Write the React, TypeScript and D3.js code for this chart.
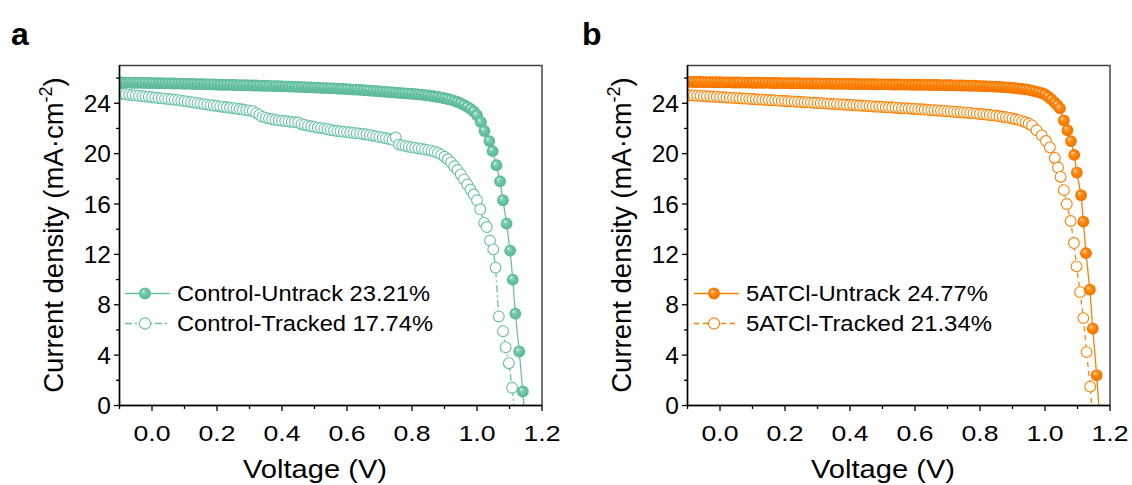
import React from "react";
import * as d3 from "d3";

// ---------- DATA ----------
const sweepV = [
  -0.10, -0.09, -0.08, -0.07, -0.06, -0.05, -0.04, -0.03, -0.02, -0.01,
  0.00, 0.01, 0.02, 0.03, 0.04, 0.05, 0.06, 0.07, 0.08, 0.09,
  0.10, 0.11, 0.12, 0.13, 0.14, 0.15, 0.16, 0.17, 0.18, 0.19,
  0.20, 0.21, 0.22, 0.23, 0.24, 0.25, 0.26, 0.27, 0.28, 0.29,
  0.30, 0.31, 0.32, 0.33, 0.34, 0.35, 0.36, 0.37, 0.38, 0.39,
  0.40, 0.41, 0.42, 0.43, 0.44, 0.45, 0.46, 0.47, 0.48, 0.49,
  0.50, 0.51, 0.52, 0.53, 0.54, 0.55, 0.56, 0.57, 0.58, 0.59,
  0.60, 0.61, 0.62, 0.63, 0.64, 0.65, 0.66, 0.67, 0.68, 0.69,
  0.70, 0.71, 0.72, 0.73, 0.74, 0.75, 0.76, 0.77, 0.78, 0.79,
  0.80, 0.81, 0.82, 0.83, 0.84, 0.85, 0.86, 0.87, 0.88, 0.89,
  0.90, 0.91, 0.92, 0.93, 0.94, 0.95, 0.96, 0.97, 0.98, 0.99,
];

// Control - Untrack (filled)
const ctrlUntrackJ = [
  25.65, 25.65, 25.64, 25.64, 25.63, 25.63, 25.62, 25.62, 25.61, 25.61,
  25.60, 25.60, 25.59, 25.59, 25.58, 25.58, 25.57, 25.57, 25.56, 25.56,
  25.55, 25.54, 25.54, 25.53, 25.52, 25.52, 25.51, 25.50, 25.50, 25.49,
  25.48, 25.47, 25.47, 25.46, 25.46, 25.45, 25.44, 25.44, 25.43, 25.43,
  25.42, 25.41, 25.41, 25.40, 25.39, 25.39, 25.38, 25.37, 25.37, 25.36,
  25.35, 25.34, 25.33, 25.32, 25.31, 25.30, 25.29, 25.28, 25.27, 25.26,
  25.25, 25.24, 25.23, 25.21, 25.20, 25.19, 25.18, 25.16, 25.15, 25.14,
  25.12, 25.11, 25.09, 25.08, 25.06, 25.04, 25.03, 25.01, 24.99, 24.97,
  24.95, 24.93, 24.91, 24.89, 24.87, 24.85, 24.83, 24.81, 24.79, 24.77,
  24.75, 24.73, 24.70, 24.68, 24.65, 24.62, 24.58, 24.54, 24.50, 24.45,
  24.40, 24.34, 24.27, 24.19, 24.10, 23.99, 23.86, 23.72, 23.56, 23.35,
];
const ctrlUntrackTailV = [1.000, 1.012, 1.023, 1.038, 1.048, 1.060, 1.071, 1.080, 1.091, 1.102, 1.110, 1.118, 1.130, 1.141, 1.152];
const ctrlUntrackTailJ = [23.05, 22.5, 21.8, 21.0, 20.2, 19.08, 17.8, 16.3, 14.44, 12.3, 10.0, 7.29, 4.29, 1.11, -2.5];

// Control - Tracked (hollow)
const ctrlTrackJ = [
  24.78, 24.75, 24.72, 24.68, 24.65, 24.62, 24.60, 24.57, 24.54, 24.51,
  24.48, 24.45, 24.42, 24.39, 24.37, 24.34, 24.31, 24.28, 24.25, 24.21,
  24.17, 24.13, 24.09, 24.05, 24.01, 23.97, 23.93, 23.89, 23.85, 23.82,
  23.78, 23.75, 23.71, 23.68, 23.64, 23.61, 23.57, 23.54, 23.50, 23.46,
  23.42, 23.38, 23.22, 23.08, 22.92, 22.84, 22.78, 22.73, 22.68, 22.64,
  22.61, 22.58, 22.55, 22.52, 22.49, 22.47, 22.34, 22.28, 22.22, 22.17,
  22.12, 22.07, 22.03, 21.99, 21.94, 21.88, 21.84, 21.80, 21.77, 21.74,
  21.71, 21.68, 21.65, 21.62, 21.59, 21.56, 21.52, 21.47, 21.42, 21.37,
  21.32, 21.27, 21.22, 21.16, 21.10, 21.28, 20.72, 20.66, 20.60, 20.55,
  20.50, 20.46, 20.42, 20.38, 20.33, 20.28, 20.22, 20.15, 20.05, 19.92,
];
const ctrlTrackTailV = [0.90, 0.91, 0.92, 0.93, 0.94, 0.95, 0.96, 0.97, 0.98, 0.99, 1.000, 1.010, 1.022, 1.030, 1.040, 1.050, 1.057, 1.067, 1.080, 1.088, 1.098, 1.108, 1.122];
const ctrlTrackTailJ = [19.75, 19.55, 19.3, 19.0, 18.7, 18.35, 17.95, 17.55, 17.15, 16.75, 16.3, 15.58, 14.5, 14.17, 13.1, 12.4, 10.95, 7.07, 5.9, 4.63, 3.36, 1.41, -1.8];

// 5ATCl - Untrack (filled)
const atUntrackJ = [
  25.70, 25.70, 25.69, 25.69, 25.69, 25.68, 25.68, 25.68, 25.67, 25.67,
  25.67, 25.66, 25.66, 25.66, 25.65, 25.65, 25.65, 25.64, 25.64, 25.64,
  25.63, 25.63, 25.63, 25.62, 25.62, 25.62, 25.61, 25.61, 25.61, 25.60,
  25.60, 25.60, 25.59, 25.59, 25.59, 25.58, 25.58, 25.58, 25.57, 25.57,
  25.57, 25.56, 25.56, 25.56, 25.55, 25.55, 25.55, 25.54, 25.54, 25.54,
  25.53, 25.53, 25.53, 25.52, 25.52, 25.52, 25.51, 25.51, 25.51, 25.50,
  25.50, 25.50, 25.50, 25.49, 25.49, 25.49, 25.48, 25.48, 25.48, 25.47,
  25.47, 25.47, 25.46, 25.46, 25.46, 25.45, 25.45, 25.45, 25.44, 25.44,
  25.43, 25.43, 25.42, 25.42, 25.41, 25.41, 25.40, 25.39, 25.39, 25.38,
  25.37, 25.36, 25.35, 25.34, 25.33, 25.32, 25.31, 25.29, 25.27, 25.25,
  25.23, 25.20, 25.17, 25.14, 25.10, 25.06, 25.01, 24.95, 24.88, 24.80,
];
const atUntrackTailV = [1.00, 1.01, 1.02, 1.03, 1.038, 1.046, 1.058, 1.069, 1.080, 1.090, 1.098, 1.111, 1.118, 1.126, 1.138, 1.147, 1.159, 1.170];
const atUntrackTailJ = [24.70, 24.52, 24.30, 24.05, 23.85, 23.6, 22.65, 21.86, 21.0, 19.9, 18.5, 16.7, 14.6, 12.1, 9.2, 6.1, 2.4, -1.6];

// 5ATCl - Tracked (hollow)
const atTrackJ = [
  24.65, 24.63, 24.62, 24.60, 24.59, 24.57, 24.56, 24.54, 24.52, 24.51,
  24.49, 24.48, 24.46, 24.45, 24.43, 24.41, 24.40, 24.38, 24.37, 24.35,
  24.34, 24.32, 24.30, 24.29, 24.27, 24.26, 24.24, 24.23, 24.21, 24.19,
  24.18, 24.16, 24.15, 24.13, 24.12, 24.10, 24.08, 24.07, 24.05, 24.04,
  24.02, 24.01, 23.99, 23.97, 23.96, 23.94, 23.93, 23.91, 23.90, 23.88,
  23.86, 23.85, 23.83, 23.82, 23.80, 23.79, 23.77, 23.75, 23.74, 23.72,
  23.71, 23.69, 23.68, 23.66, 23.65, 23.63, 23.61, 23.60, 23.58, 23.57,
  23.55, 23.53, 23.52, 23.50, 23.48, 23.46, 23.45, 23.43, 23.41, 23.39,
  23.37, 23.35, 23.33, 23.31, 23.29, 23.27, 23.25, 23.23, 23.20, 23.18,
  23.15, 23.13, 23.10, 23.07, 23.04, 23.01, 22.97, 22.93, 22.89, 22.84,
  22.79, 22.73, 22.66, 22.58, 22.49, 22.37, 22.24,
];
const atTrackTailV = [0.974, 0.990, 1.003, 1.015, 1.030, 1.040, 1.048, 1.058, 1.067, 1.079, 1.089, 1.097, 1.108, 1.118, 1.128, 1.139, 1.150];
const atTrackTailJ = [21.86, 21.45, 21.0, 20.5, 19.66, 18.9, 18.15, 17.1, 16.0, 14.65, 12.9, 11.05, 9.0, 6.94, 4.24, 1.5, -1.9];

const legendNames = [
  ["Control-Untrack 23.21%", "Control-Tracked 17.74%"],
  ["5ATCl-Untrack 24.77%", "5ATCl-Tracked 21.34%"],
];
const panelLetters = ["a", "b"];
const xMajorTicks = [0.0, 0.2, 0.4, 0.6, 0.8, 1.0, 1.2];
const xMinorTicks = [-0.1, 0.1, 0.3, 0.5, 0.7, 0.9, 1.1];
const yMajorTicks = [0, 4, 8, 12, 16, 20, 24];
const yMinorTicks = [2, 6, 10, 14, 18, 22, 26];

// ---------- HELPERS ----------
type Pt = [number, number];
function build(dense: number[], tailV: number[], tailJ: number[]): Pt[] {
  const pts: Pt[] = dense.map((j, i) => [sweepV[i], j] as Pt);
  tailV.forEach((v, i) => pts.push([v, tailJ[i]]));
  return pts;
}

const TEAL = "#66C2A5";
const ORANGE = "#FF8000";
const FONT = "Arial, 'Liberation Sans', Helvetica, sans-serif";

const PLOT_W = 422.5;
const PLOT_TOP = 65.5;
const PLOT_BOTTOM = 405.5;

interface PanelProps {
  idx: number;
  left: number;
  color: string;
  gradId: string;
  untrack: Pt[];
  track: Pt[];
  trackDash: string;
  legendX: number;
  legendLens: number[];
}

function Panel({ idx, left, color, gradId, untrack, track, trackDash, legendX, legendLens }: PanelProps) {
  const x = d3.scaleLinear().domain([-0.1, 1.2]).range([left, left + PLOT_W]);
  const y = d3.scaleLinear().domain([0, 27]).range([PLOT_BOTTOM, PLOT_TOP]);
  const line = d3.line<Pt>().x((d) => x(d[0])).y((d) => y(d[1]));
  const clipId = `clip-${idx}`;
  const R = 5.9;
  const off = left - 119.5;
  const legY = [293.5, 323.5];

  return (
    <g>
      <defs>
        <clipPath id={clipId}>
          <rect x={left} y={PLOT_TOP} width={PLOT_W} height={PLOT_BOTTOM - PLOT_TOP} />
        </clipPath>
      </defs>
      <g clipPath={`url(#${clipId})`}>
        <path d={line(track) || ""} fill="none" stroke={color} strokeWidth={1.3} strokeDasharray={trackDash} />
        <path d={line(untrack) || ""} fill="none" stroke={color} strokeWidth={1.3} />
        {track.map((d, i) => (
          <circle key={"t" + i} cx={x(d[0])} cy={y(d[1])} r={R - 0.5} fill="#fff" stroke={color} strokeWidth={1.1} />
        ))}
        {untrack.map((d, i) => (
          <circle key={"u" + i} cx={x(d[0])} cy={y(d[1])} r={R} fill={`url(#${gradId})`} />
        ))}
      </g>
      {/* frame */}
      <rect x={left} y={PLOT_TOP} width={PLOT_W} height={PLOT_BOTTOM - PLOT_TOP} fill="none" stroke="#404040" strokeWidth={1.5} />
      <line x1={left} x2={left} y1={PLOT_TOP} y2={PLOT_BOTTOM} stroke="#000" strokeWidth={1.4} />
      <line x1={left} x2={left + PLOT_W} y1={PLOT_BOTTOM} y2={PLOT_BOTTOM} stroke="#000" strokeWidth={1.4} />
      {/* x ticks */}
      {xMajorTicks.map((t) => (
        <g key={"xm" + t}>
          <line x1={x(t)} x2={x(t)} y1={PLOT_BOTTOM} y2={PLOT_BOTTOM + 5.5} stroke="#000" strokeWidth={1.3} />
          <text x={x(t)} y={440.5} textAnchor="middle" fontSize={22.5} fontFamily={FONT} textLength={37} lengthAdjust="spacingAndGlyphs">
            {t.toFixed(1)}
          </text>
        </g>
      ))}
      {xMinorTicks.map((t) => (
        <line key={"xn" + t} x1={x(t)} x2={x(t)} y1={PLOT_BOTTOM} y2={PLOT_BOTTOM + 3.5} stroke="#000" strokeWidth={1.3} />
      ))}
      {/* y ticks */}
      {yMajorTicks.map((t) => (
        <g key={"ym" + t}>
          <line x1={left} x2={left - 5.5} y1={y(t)} y2={y(t)} stroke="#000" strokeWidth={1.3} />
          <text x={left - 8.5} y={y(t) + 8.5} textAnchor="end" fontSize={24.5} fontFamily={FONT}>
            {t}
          </text>
        </g>
      ))}
      {yMinorTicks.map((t) => (
        <line key={"yn" + t} x1={left} x2={left - 3.5} y1={y(t)} y2={y(t)} stroke="#000" strokeWidth={1.3} />
      ))}
      {/* axis titles */}
      <text x={315 + off} y={478} textAnchor="middle" fontSize={25} fontFamily={FONT} textLength={144} lengthAdjust="spacingAndGlyphs">
        Voltage (V)
      </text>
      <text transform={`translate(${63 + off},235) rotate(-90)`} textAnchor="middle" fontSize={27.5} fontFamily={FONT}>
        Current density (mA·cm
        <tspan fontSize={18} dy={-11}>-2</tspan>
        <tspan dy={11}>)</tspan>
      </text>
      {/* panel letter */}
      <text x={11 + off + (idx === 1 ? 3 : 0)} y={45} fontSize={32} fontWeight="bold" fontFamily={FONT}>
        {panelLetters[idx]}
      </text>
      {/* legend */}
      <g>
        <line x1={legendX} x2={legendX + 45} y1={legY[0]} y2={legY[0]} stroke={color} strokeWidth={1.5} />
        <circle cx={legendX + 20} cy={legY[0]} r={R} fill={`url(#${gradId})`} />
        <text x={legendX + 52} y={legY[0] + 7.5} fontSize={21.5} fontFamily={FONT} textLength={legendLens[0]} lengthAdjust="spacingAndGlyphs">
          {legendNames[idx][0]}
        </text>
        <line x1={legendX} x2={legendX + 45} y1={legY[1]} y2={legY[1]} stroke={color} strokeWidth={1.5} strokeDasharray={trackDash} />
        <circle cx={legendX + 20} cy={legY[1]} r={R - 0.3} fill="#fff" stroke={color} strokeWidth={1.1} />
        <text x={legendX + 52} y={legY[1] + 7.5} fontSize={21.5} fontFamily={FONT} textLength={legendLens[1]} lengthAdjust="spacingAndGlyphs">
          {legendNames[idx][1]}
        </text>
      </g>
    </g>
  );
}

export default function App() {
  const ctrlUntrack = build(ctrlUntrackJ, ctrlUntrackTailV, ctrlUntrackTailJ);
  const ctrlTrack = build(ctrlTrackJ, ctrlTrackTailV, ctrlTrackTailJ);
  const atUntrack = build(atUntrackJ, atUntrackTailV, atUntrackTailJ);
  const atTrack = build(atTrackJ, atTrackTailV, atTrackTailJ);

  return (
    <svg
      width={1132}
      height={485}
      viewBox="0 0 1132 485"
      style={{ position: "absolute", left: 0, top: 0, display: "block", background: "#fff" }}
    >
      <defs>
        <radialGradient id="sph-teal" cx="0.5" cy="0.5" r="0.5" fx="0.33" fy="0.3">
          <stop offset="0" stopColor="#f2fffa" />
          <stop offset="0.25" stopColor="#8ad2ba" />
          <stop offset="0.6" stopColor={TEAL} />
          <stop offset="1" stopColor="#5cb797" />
        </radialGradient>
        <radialGradient id="sph-orange" cx="0.5" cy="0.5" r="0.5" fx="0.33" fy="0.3">
          <stop offset="0" stopColor="#fff3e6" />
          <stop offset="0.25" stopColor="#ffa040" />
          <stop offset="0.6" stopColor={ORANGE} />
          <stop offset="1" stopColor="#f07400" />
        </radialGradient>
      </defs>
      <rect x={0} y={0} width={1132} height={485} fill="#fff" />
      <Panel
        idx={0}
        left={119.5}
        color={TEAL}
        gradId="sph-teal"
        untrack={ctrlUntrack}
        track={ctrlTrack}
        trackDash="7,3,2,3"
        legendX={125}
        legendLens={[253, 256]}
      />
      <Panel
        idx={1}
        left={687.5}
        color={ORANGE}
        gradId="sph-orange"
        untrack={atUntrack}
        track={atTrack}
        trackDash="5,4"
        legendX={694}
        legendLens={[242, 246]}
      />
    </svg>
  );
}
